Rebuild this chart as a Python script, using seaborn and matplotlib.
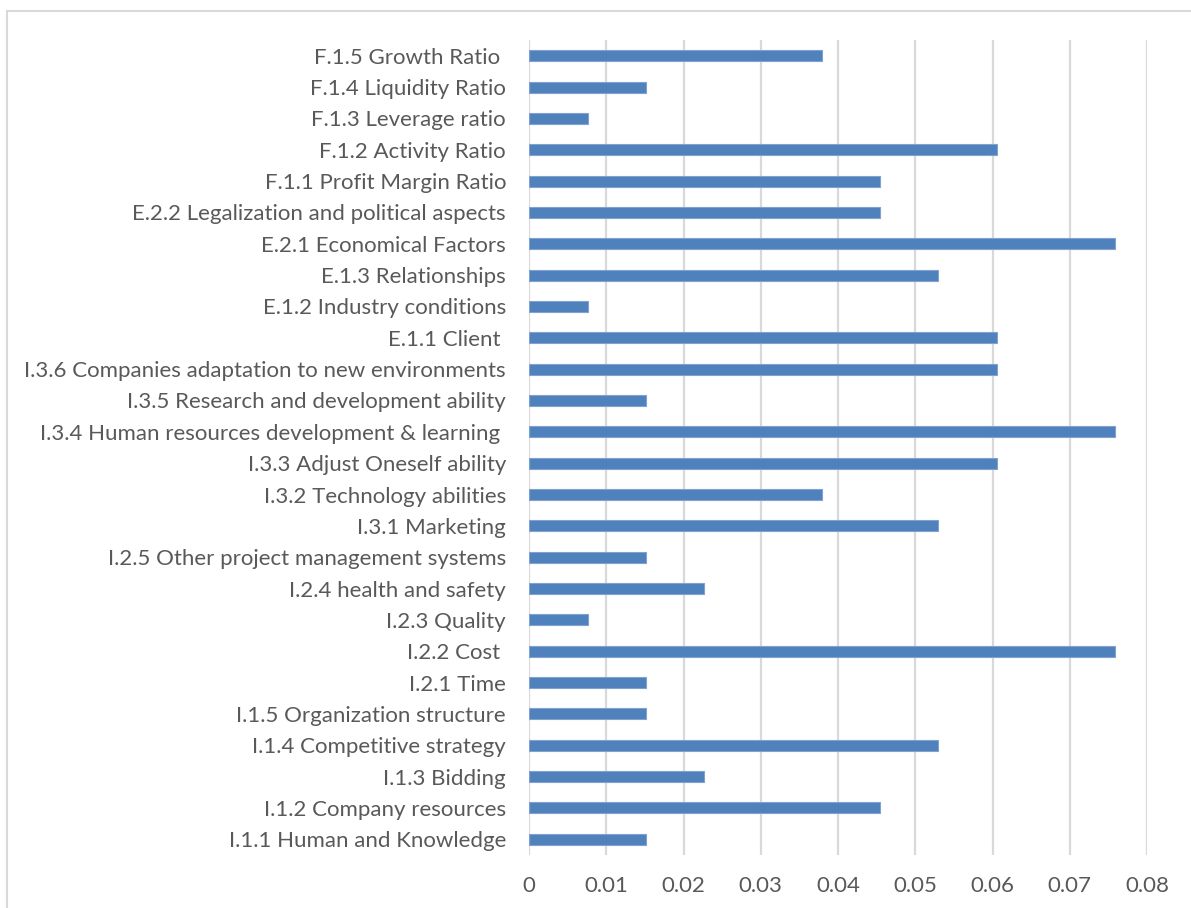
import matplotlib
matplotlib.use("Agg")
import matplotlib.pyplot as plt
from matplotlib.patches import Rectangle
import seaborn as sns
import pandas as pd

# Factor labels, listed top to bottom as they appear on the chart
factors = [
    "F.1.5 Growth Ratio ",
    "F.1.4 Liquidity Ratio",
    "F.1.3 Leverage ratio",
    "F.1.2 Activity Ratio",
    "F.1.1 Profit Margin Ratio",
    "E.2.2 Legalization and political aspects",
    "E.2.1 Economical Factors",
    "E.1.3 Relationships",
    "E.1.2 Industry conditions",
    "E.1.1 Client ",
    "I.3.6 Companies adaptation to new environments",
    "I.3.5 Research and development ability",
    "I.3.4 Human resources development & learning ",
    "I.3.3 Adjust Oneself ability",
    "I.3.2 Technology abilities",
    "I.3.1 Marketing",
    "I.2.5 Other project management systems",
    "I.2.4 health and safety",
    "I.2.3 Quality",
    "I.2.2 Cost ",
    "I.2.1 Time",
    "I.1.5 Organization structure",
    "I.1.4 Competitive strategy",
    "I.1.3 Bidding",
    "I.1.2 Company resources",
    "I.1.1 Human and Knowledge",
]

# Weight of each factor
weights = [
    0.0379, 0.0152, 0.0076, 0.0606, 0.0455,
    0.0455, 0.0758, 0.0530, 0.0076, 0.0606,
    0.0606, 0.0152, 0.0758, 0.0606, 0.0379,
    0.0530, 0.0152, 0.0227, 0.0076, 0.0758,
    0.0152, 0.0152, 0.0530, 0.0227, 0.0455,
    0.0152,
]

x_ticks = [0, 0.01, 0.02, 0.03, 0.04, 0.05, 0.06, 0.07, 0.08]
x_tick_labels = ["0", "0.01", "0.02", "0.03", "0.04", "0.05", "0.06", "0.07", "0.08"]

df = pd.DataFrame({"factor": factors, "weight": weights})

sns.set_theme(style="white")
plt.rcParams["font.family"] = ["Lato", "DejaVu Sans"]

fig = plt.figure(figsize=(11.91, 9.08), dpi=100)
W, H = 1191, 908
ax = fig.add_axes([529 / W, 1 - 855 / H, (1147 - 529) / W, (855 - 40) / H])

sns.barplot(data=df, x="weight", y="factor", orient="h", order=factors,
            color="#4F81BD", saturation=1, width=0.35,
            edgecolor="#7FA2CF", linewidth=0.8, ax=ax)

ax.set_xlim(0, 0.08)
ax.set_ylim(len(factors) - 0.5, -0.5)
ax.set_xticks(x_ticks)
ax.set_xticklabels(x_tick_labels)
ax.set_xlabel("")
ax.set_ylabel("")

ax.grid(axis="x", color="#D9D9D9", linewidth=1.6)
ax.grid(axis="y", visible=False)
ax.set_axisbelow(True)
for s in ax.spines.values():
    s.set_visible(False)

ax.tick_params(axis="both", length=0, labelsize=16, labelcolor="#595959")
ax.tick_params(axis="y", pad=16.5)
ax.tick_params(axis="x", pad=15)

# Outer chart frame (runs past the right and bottom edges)
fig.patches.append(Rectangle((7 / W, -0.05), 1.2, 1 - 11 / H + 0.05,
                             transform=fig.transFigure, fill=False,
                             edgecolor="#D9D9D9", linewidth=1.5))

fig.savefig("out.png", dpi=100)
